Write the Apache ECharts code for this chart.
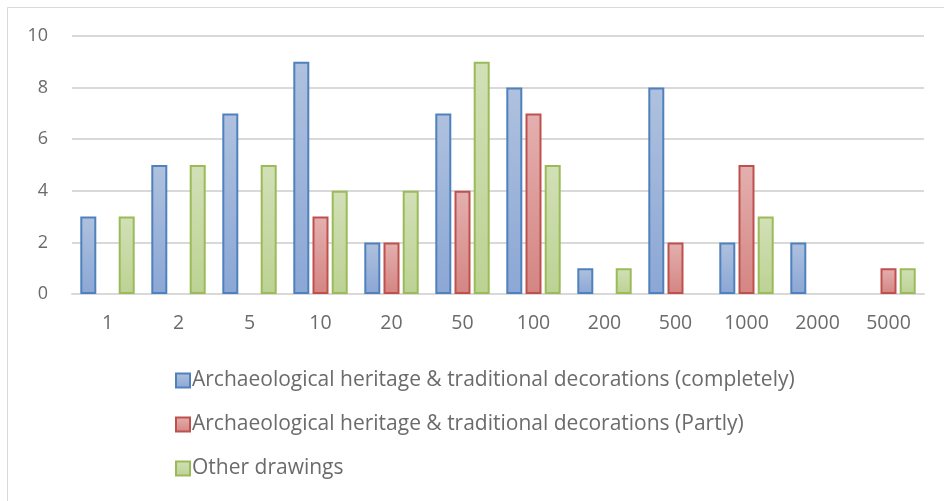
<!DOCTYPE html>
<html><head><meta charset="utf-8">
<script src="https://cdn.jsdelivr.net/npm/echarts@6/dist/echarts.min.js"></script>
<style>html,body{margin:0;padding:0;background:#fff}#c{width:944px;height:501px}</style>
</head><body><div id="c"></div>
<script>
var categories = ['1','2','5','10','20','50','100','200','500','1000','2000','5000'];
var seriesNames = ['Archaeological heritage & traditional decorations (completely)','Archaeological heritage & traditional decorations (Partly)','Other drawings'];
var completely = [3,5,7,9,2,7,8,1,8,2,2,null];
var partly = [null,null,null,3,2,4,7,null,2,5,null,1];
var other = [3,5,5,4,4,9,5,1,null,3,null,1];
var yTicks = [0,2,4,6,8,10];

var FONT = '"Open Sans", sans-serif';
function grad(top, bottom){
  return new echarts.graphic.LinearGradient(0,0,0,1,[{offset:0,color:top},{offset:1,color:bottom}]);
}
var styles = [
  {fill: grad('#AFC1DE','#8BA7D5'), border:'#4F81BD'},
  {fill: grad('#E3B0AF','#D48582'), border:'#C0504D'},
  {fill: grad('#D2E0B7','#BCD293'), border:'#9BBB59'}
];
var dataSets = [completely, partly, other];
var chart = echarts.init(document.getElementById('c'), null, {renderer:'canvas'});
chart.setOption({
  animation:false,
  backgroundColor:'#fff',
  graphic:[{type:'rect', shape:{x:7.5,y:7.5,width:1000,height:600}, style:{fill:null, stroke:'#D9D9D9', lineWidth:1}, silent:true}],
  grid:{left:72,right:20,top:36,bottom:207},
  legend:{
    orient:'vertical', left:170, top:365, itemGap:23, itemWidth:14, itemHeight:14,
    icon:'rect',
    textStyle:{fontFamily:FONT, fontSize:21, color:'#6B6B6B', padding:[0,0,0,-3]},
    data: seriesNames
  },
  xAxis:{
    type:'category', data:categories,
    axisLine:{lineStyle:{color:'#D9D9D9', width:2}},
    axisTick:{show:false},
    axisLabel:{fontFamily:FONT, fontSize:19.5, color:'#6B6B6B', margin:19}
  },
  yAxis:{
    type:'value', min:yTicks[0], max:yTicks[yTicks.length-1], interval:2,
    axisLine:{show:false}, axisTick:{show:false},
    splitLine:{lineStyle:{color:'#D9D9D9', width:2}},
    axisLabel:{fontFamily:FONT, fontSize:18, color:'#6B6B6B', margin:24}
  },
  series: dataSets.map(function(d,i){
    return {
      name: seriesNames[i], type:'bar', data:d, barWidth:16, barGap:'20%',
      itemStyle:{color:styles[i].fill, borderColor:styles[i].border, borderWidth:2}
    };
  })
});
</script></body></html>
